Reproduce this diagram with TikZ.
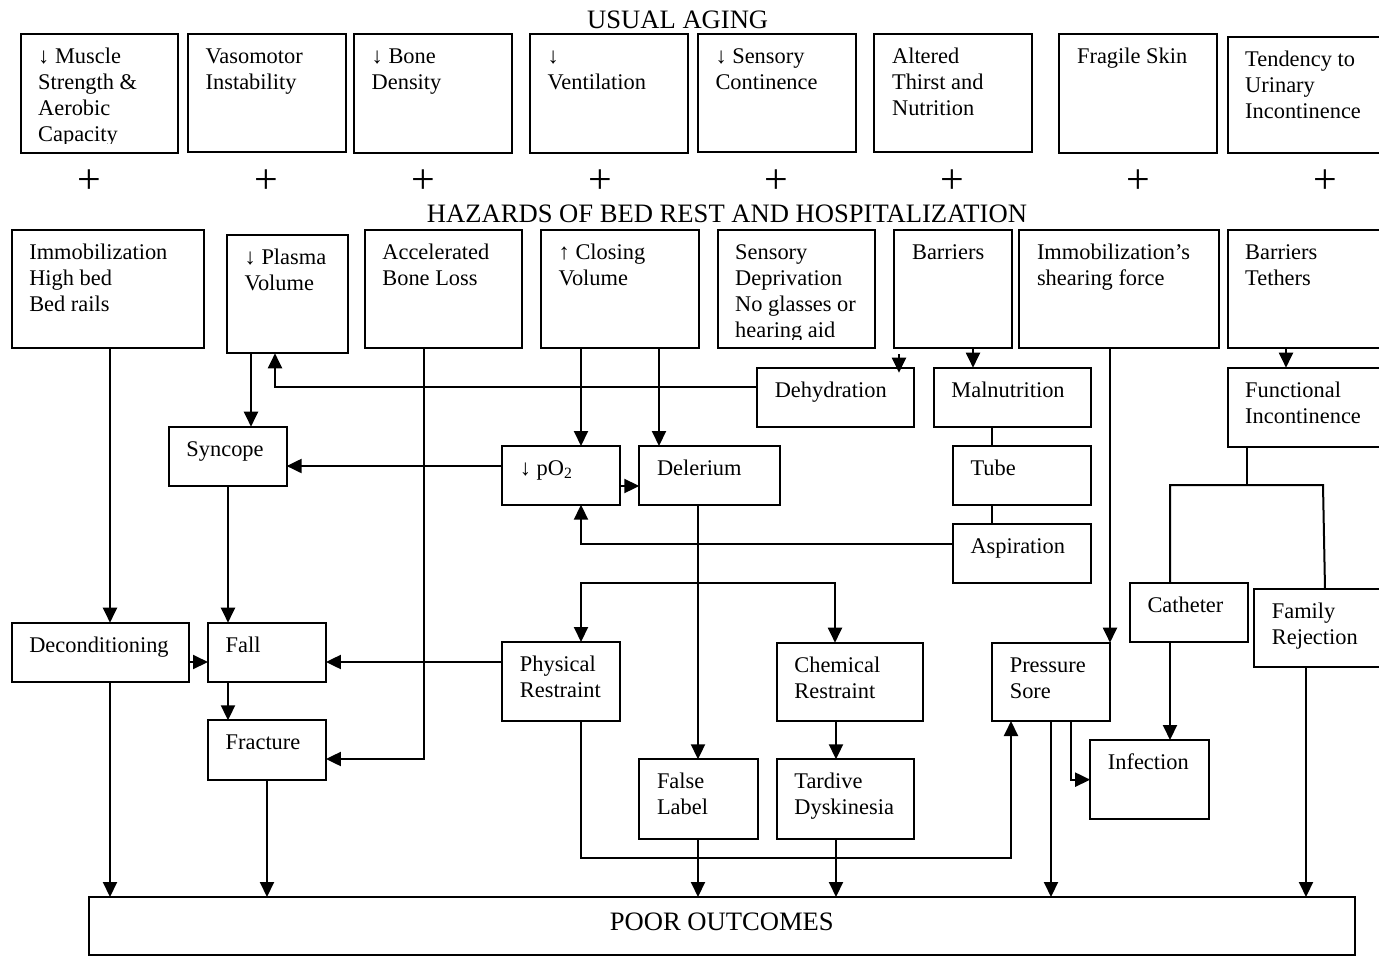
\documentclass[tikz,border=0pt]{standalone}
\usepackage{fontspec}
\setmainfont{Liberation Serif}
\usetikzlibrary{arrows.meta}
\newcommand{\bodyfs}{\fontsize{22.4}{26}\selectfont}
\newcommand{\titlefs}{\fontsize{26.6}{30}\selectfont}
\newcommand{\plusfs}{\fontsize{42}{46}\selectfont}
\newcommand{\mytx}[1]{\begin{tabular}[t]{@{}l@{}}#1\end{tabular}}
\newcommand{\mybox}[6]{%
  \node[box, minimum width={(#4-#2)*1pt}, minimum height={(#5-#3)*1pt}, anchor=north west] (#1) at (#2,#3) {};
  \begin{scope}
    \clip (#2,#3) rectangle (#4,{#5-9});
    \node[txt] (#1-t) at ({#2+17.5},{#3+29.5}) {\mytx{#6}};
  \end{scope}}
\tikzset{
  box/.style={draw, line width=2pt, inner sep=0pt, outer sep=0pt, rectangle},
  txt/.style={font=\bodyfs, inner sep=0pt, anchor=base west},
  ttl/.style={font=\titlefs, inner sep=0pt, anchor=base},
  pls/.style={font=\plusfs, inner sep=0pt},
  conn/.style={line width=2pt},
  arr/.style={conn, -{Triangle[length=15pt,width=14pt]}},
}
\begin{document}
\begin{tikzpicture}[x=1pt,y=-1pt]
\fill[white] (0,0) rectangle (1379,956);
\useasboundingbox (0,0) rectangle (1379,956);

% titles
\node[ttl] (usual) at (677.7,28.3) {USUAL AGING};
\node[ttl] (hazards) at (727,222.7) {HAZARDS OF BED REST AND HOSPITALIZATION};

% plus signs
\node[pls] (p1) at (89.7,181.7) {+};
\node[pls] (p2) at (266.5,181.7) {+};
\node[pls] (p3) at (423.2,181.7) {+};
\node[pls] (p4) at (600.4,181.7) {+};
\node[pls] (p5) at (776.3,181.7) {+};
\node[pls] (p6) at (952.8,181.7) {+};
\node[pls] (p7) at (1138.3,181.7) {+};
\node[pls] (p8) at (1325.1,181.7) {+};

% usual aging row
\mybox{a1}{20.5}{34.3}{178}{152.5}{↓ Muscle\\Strength \&\\Aerobic\\Capacity}
\mybox{a2}{188}{33.7}{345.5}{152}{Vasomotor\\Instability}
\mybox{a3}{354}{34.3}{511.6}{152.5}{↓ Bone\\Density}
\mybox{a4}{530}{34.3}{687.5}{152.5}{↓\\Ventilation}
\mybox{a5}{697.8}{34.3}{855.7}{152.3}{↓ Sensory\\Continence}
\mybox{a6}{874.4}{33.7}{1031.8}{152.3}{Altered\\Thirst and\\Nutrition}
\mybox{a7}{1059.4}{34.3}{1217.2}{153}{Fragile Skin}
\mybox{a8}{1227.5}{37.3}{1386}{153.3}{Tendency to\\Urinary\\Incontinence}

% hazards row
\mybox{immob}{11.6}{230}{203.6}{348.3}{Immobilization\\High bed\\Bed rails}
\mybox{plasma}{227}{235.3}{347.8}{353.3}{↓ Plasma\\Volume}
\mybox{accel}{364.7}{230}{521.9}{348.3}{Accelerated\\Bone Loss}
\mybox{closing}{541}{230}{698.7}{348.3}{↑ Closing\\Volume}
\mybox{sensdep}{717.5}{230}{874.8}{348.3}{Sensory\\Deprivation\\No glasses or\\hearing aid}
\mybox{barriers}{894.4}{230}{1012.1}{348.3}{Barriers}
\mybox{immobs}{1019.3}{230}{1218.6}{348.3}{Immobilization’s\\shearing force}
\mybox{tethers}{1227.5}{230}{1386}{348.3}{Barriers\\Tethers}

% middle boxes
\mybox{dehyd}{757.1}{367.7}{914}{427.3}{Dehydration}
\mybox{malnut}{933.7}{367.7}{1090.6}{426.7}{Malnutrition}
\mybox{funcinc}{1227.5}{367.7}{1386}{446.7}{Functional\\Incontinence}
\mybox{syncope}{168.75}{426.7}{286.6}{485.7}{Syncope}
\mybox{po2}{502.2}{446}{620}{504.7}{↓ pO\textsubscript{2}}
\mybox{delir}{639.3}{446}{779.9}{504.7}{Delerium}
\mybox{tube}{952.8}{446.3}{1090.6}{504.7}{Tube}
\mybox{aspir}{952.8}{524.3}{1090.6}{583.3}{Aspiration}
\mybox{cath}{1129.8}{583.3}{1247.5}{642.3}{Catheter}
\mybox{family}{1254.2}{588.7}{1386}{666.7}{Family\\Rejection}
\mybox{decond}{11.6}{622.7}{188.8}{681.7}{Deconditioning}
\mybox{fall}{208}{622.7}{325.9}{681.7}{Fall}
\mybox{phys}{502.2}{642}{620}{721}{Physical\\Restraint}
\mybox{chem}{776.7}{642.7}{923.4}{721}{Chemical\\Restraint}
\mybox{press}{992.1}{642.7}{1110.2}{721}{Pressure\\Sore}
\mybox{fract}{208}{720.3}{325.9}{779.7}{Fracture}
\mybox{infect}{1090.2}{740}{1208.8}{819.3}{Infection}
\mybox{falsel}{639.3}{759.3}{757.6}{839}{False\\Label}
\mybox{tardive}{776.7}{759.3}{914}{839}{Tardive\\Dyskinesia}

% poor outcomes
\node[box, minimum width=1266.1pt, minimum height=57.5pt, anchor=north west] (poor) at (89.3,897) {};
\node[ttl] (poor-t) at (721.8,930) {POOR OUTCOMES};

% connectors
\draw[arr] (110,0 |- immob.south) -- (110,0 |- decond.north);
\draw[arr] (251,0 |- plasma.south) -- (251,0 |- syncope.north);
\draw[arr] (dehyd.west |- 0,387) -| (275,0 |- plasma.south);
\draw[arr] (424,0 |- accel.south) |- (fract.east |- 0,759);
\draw[arr] (581,0 |- closing.south) -- (581,0 |- po2.north);
\draw[arr] (659,0 |- closing.south) -- (659,0 |- delir.north);
\draw[arr] (po2.west |- 0,466) -- (syncope.east |- 0,466);
\draw[arr] (po2.east |- 0,486) -- (delir.west |- 0,486);
\draw[arr] (aspir.west |- 0,544) -| (581,0 |- po2.south);
\draw[arr] (698,0 |- delir.south) -- (698,0 |- falsel.north);
\coordinate (brd) at (698,583);
\draw[arr] (brd) -| (581,0 |- phys.north);
\draw[arr] (brd) -| (835,0 |- chem.north);
\draw[arr] (836,0 |- chem.south) -- (836,0 |- tardive.north);
\draw[arr] (698,0 |- falsel.south) -- (698,0 |- poor.north);
\draw[arr] (836,0 |- tardive.south) -- (836,0 |- poor.north);
\draw[arr] (581,0 |- phys.south) -- (581,858) -| (1011,0 |- press.south);
\draw[arr, shorten <=6pt, shorten >=-5pt] (899,0 |- barriers.south) -- (899,0 |- dehyd.north);
\draw[arr] (973,0 |- barriers.south) -- (973,0 |- malnut.north);
\draw[conn] (992,0 |- malnut.south) -- (992,0 |- tube.north);
\draw[conn] (992,0 |- tube.south) -- (992,0 |- aspir.north);
\draw[arr] (1110,0 |- immobs.south) -- (1110,0 |- press.north);
\draw[arr] (1286,0 |- tethers.south) -- (1286,0 |- funcinc.north);
\coordinate (brf) at (1247,485);
\draw[conn] (1247,0 |- funcinc.south) -- (brf);
\draw[conn] (1170,0 |- cath.north) |- (1323,485) -- (1325,0 |- family.north);
\draw[arr] (1170,0 |- cath.south) -- (1170,0 |- infect.north);
\draw[arr] (1071,0 |- press.south) |- (infect.west);
\draw[arr] (1051,0 |- press.south) -- (1051,0 |- poor.north);
\draw[arr] (1306,0 |- family.south) -- (1306,0 |- poor.north);
\draw[arr] (110,0 |- decond.south) -- (110,0 |- poor.north);
\draw[arr] (267,0 |- fract.south) -- (267,0 |- poor.north);
\draw[arr] (decond.east |- 0,662) -- (fall.west |- 0,662);
\draw[arr] (phys.west |- 0,662) -- (fall.east |- 0,662);
\draw[arr] (228,0 |- fall.south) -- (228,0 |- fract.north);
\draw[arr] (228,0 |- syncope.south) -- (228,0 |- fall.north);
\end{tikzpicture}
\end{document}
